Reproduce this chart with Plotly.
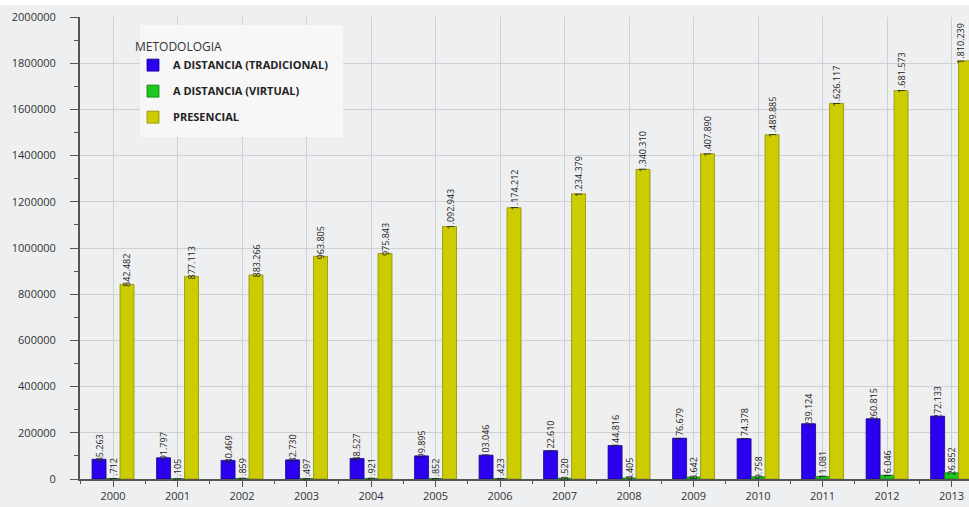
import plotly.graph_objects as go

years = [2000, 2001, 2002, 2003, 2004, 2005, 2006, 2007, 2008, 2009, 2010, 2011, 2012, 2013]
tradicional = [85263, 91797, 80469, 82730, 88527, 99895, 103046, 122610, 144816, 176679, 174378, 239124, 260815, 272133]
virtual = [1712, 1105, 1859, 1497, 1921, 1852, 1423, 3520, 4405, 8642, 9758, 11081, 16046, 26852]
presencial = [842482, 877113, 883266, 963805, 975843, 1092943, 1174212, 1234379, 1340310, 1407890, 1489885, 1626117, 1681573, 1810239]

series = [
    ("A DISTANCIA (TRADICIONAL)", tradicional, "#2a00ee", "#1a0090", -14),
    ("A DISTANCIA (VIRTUAL)", virtual, "#1ec81e", "#0f7a0f", 0),
    ("PRESENCIAL", presencial, "#cccc00", "#8f8f00", 14),
]

def fmt(v):
    return f"{v:,}".replace(",", ".")

fig = go.Figure()
annotations = []
for i, (name, vals, color, lcolor, shift) in enumerate(series):
    fig.add_trace(go.Bar(
        x=years, y=vals, name=name, legendgroup=name,
        marker=dict(color=color, line=dict(color=lcolor, width=0.8)),
    ))
    for yr, v in zip(years, vals):
        # keep the right-most label inside the page edge
        xs = min(shift, 9) if yr == years[-1] else shift
        annotations.append(dict(
            x=yr, y=v, xref="x", yref="y", text=fmt(v), showarrow=False,
            textangle=-90, xanchor="center", yanchor="bottom",
            xshift=xs, yshift=-5,
            font=dict(family="Open Sans", size=9, color="#222222"),
        ))

# plot area: 80..969 px wide (889), 17..479 px high (462)
fig.update_layout(
    width=969, height=507,
    margin=dict(l=80, r=0, t=17, b=28),
    paper_bgcolor="#eeeff1",
    plot_bgcolor="#eeeff1",
    barmode="group", bargap=0.35, bargroupgap=0,
    font=dict(family="Open Sans", color="#333333"),
    annotations=annotations,
    legend=dict(
        title=dict(text="METODOLOGIA",
                   font=dict(family="Open Sans", size=12, color="#333333", weight="normal")),
        x=0.0596, y=0.961, xanchor="left", yanchor="top",
        bgcolor="rgba(0,0,0,0)", borderwidth=0,
        font=dict(family="Open Sans", size=11, color="#222222", weight="bold"),
        tracegroupgap=7,
        itemclick=False,
    ),
    shapes=[
        dict(type="rect", xref="paper", yref="paper",
             x0=-0.2, x1=1.1, y0=1 + 12 / 462, y1=1.1,
             fillcolor="white", line=dict(width=0), layer="above"),
        dict(type="rect", xref="paper", yref="paper",
             x0=(140 - 80) / 889, x1=(343 - 80) / 889,
             y0=(479 - 137) / 462, y1=(479 - 25) / 462,
             fillcolor="#f7f7f8", line=dict(width=0), layer="above"),
    ],
    showlegend=True,
)

fig.update_xaxes(
    range=[1999.488, 2013.27],
    tickmode="array", tickvals=years, ticktext=[str(y) for y in years],
    showgrid=True, gridcolor="#cfd0d3", gridwidth=1,
    showline=True, linecolor="#555555", linewidth=2,
    ticks="outside", ticklen=6, tickcolor="#555555",
    minor=dict(tick0=1999.5, dtick=1, ticks="outside", ticklen=3, tickcolor="#555555", showgrid=False),
    tickfont=dict(family="Open Sans", size=11, color="#333333"),
    zeroline=False, fixedrange=True,
)
fig.update_yaxes(
    range=[0, 2000000],
    tickmode="linear", tick0=0, dtick=200000, tickformat="d",
    showgrid=True, gridcolor="#cfd0d3", gridwidth=1,
    showline=True, linecolor="#555555", linewidth=2,
    ticks="outside", ticklen=8, tickcolor="#555555",
    ticklabelstandoff=12,
    minor=dict(dtick=100000, ticks="outside", ticklen=4, tickcolor="#555555", showgrid=False),
    tickfont=dict(family="Open Sans", size=11, color="#333333"),
    zeroline=False,
)

fig.write_html("out.html")
